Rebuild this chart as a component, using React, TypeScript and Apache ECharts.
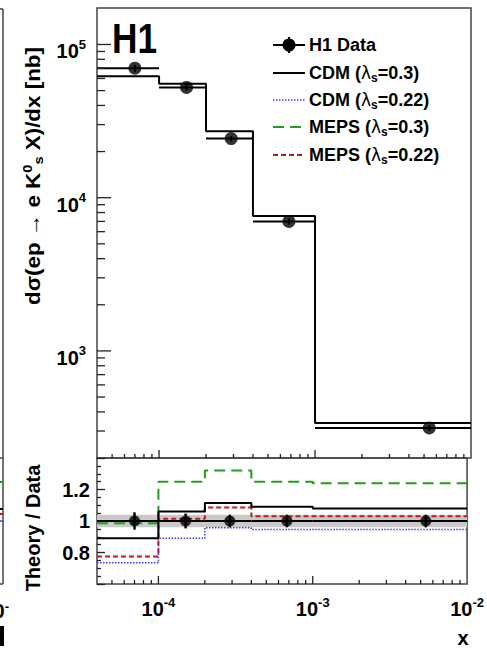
import React, { useEffect, useRef } from 'react';
import * as echarts from 'echarts';

const FONT = '"Liberation Sans", Arial, Helvetica, sans-serif';

// ---------- data ----------
const binEdges = [4e-5, 1e-4, 2e-4, 4e-4, 1e-3, 1e-2];
const dataX = [7e-5, 1.5e-4, 2.9e-4, 6.8e-4, 5.4e-3];
const dataY = [70000, 52400, 24300, 7000, 314];
const dataYErr = [3600, 2400, 1000, 300, 13];
const cdmMainY = [62000, 55500, 27100, 7600, 339];

const ratioErr = [0.055, 0.047, 0.04, 0.04, 0.04];
const cdm03Ratio = [0.89, 1.06, 1.115, 1.09, 1.08];
const cdm022Ratio = [0.735, 0.89, 0.957, 0.946, 0.946];
const meps03Ratio = [0.985, 1.25, 1.32, 1.25, 1.24];
const meps022Ratio = [0.775, 1.015, 1.085, 1.03, 1.03];
const bandHalf = 0.04;

const xTickLabels = [1e-4, 1e-3, 1e-2];
const yMainTickLabels = [1e3, 1e4, 1e5];
const ratioTickLabels = [0.8, 1, 1.2];

const legendEntries = [
  { pre: 'H1 Data', lam: '', sub: '', post: '' },
  { pre: 'CDM (', lam: 'λ', sub: 's', post: '=0.3)' },
  { pre: 'CDM (', lam: 'λ', sub: 's', post: '=0.22)' },
  { pre: 'MEPS (', lam: 'λ', sub: 's', post: '=0.3)' },
  { pre: 'MEPS (', lam: 'λ', sub: 's', post: '=0.22)' },
];

const X_MIN = 4e-5, X_MAX = 1e-2;
const Y_MIN = 200, Y_MAX = 1.73e5;
const R_MIN = 0.6, R_MAX = 1.4;

const C_BLUE = '#3a3aff';
const C_GREEN = '#1f9e1f';
const C_RED = '#c01818';
const C_FRAME = '#444';
const C_TICK = '#222';

// ---------- helpers ----------
const stepData = (vals: number[]) => [
  ...vals.map((v, i) => [binEdges[i], v]),
  [binEdges[vals.length], vals[vals.length - 1]],
];

const logTicks = (lo: number, hi: number) => {
  const out: number[][] = [];
  for (let e = Math.floor(Math.log10(lo)); e <= Math.ceil(Math.log10(hi)); e++) {
    for (let m = 1; m <= 9; m++) {
      const v = m * Math.pow(10, e);
      if (v > lo * 1.0001 && v < hi * 0.9999) out.push([v, m === 1 ? 1 : 0]);
    }
  }
  return out;
};

const isIn = (v: number, list: number[]) => list.some((t) => Math.abs(v / t - 1) < 1e-6);

const powLabel = (v: number, list: number[]) => {
  if (!isIn(v, list)) return '';
  const e = Math.round(Math.log10(v));
  return `{b|10}{s|${e}}`;
};

const powRich = {
  b: { fontFamily: FONT, fontWeight: 'bold', fontSize: 20, color: '#000', lineHeight: 20, verticalAlign: 'bottom' },
  s: { fontFamily: FONT, fontWeight: 'bold', fontSize: 13, color: '#000', lineHeight: 34, verticalAlign: 'middle' },
};

const xTickSeries = (axisIdx: number, yBase: number) => ({
  type: 'custom',
  xAxisIndex: axisIdx,
  yAxisIndex: axisIdx,
  silent: true,
  z: 6,
  encode: { x: 0, y: 1 },
  data: logTicks(X_MIN, X_MAX).map(([v, m]) => [v, yBase, m]),
  renderItem: (params: any, api: any) => {
    const cs = params.coordSys;
    const p = api.coord([api.value(0), yBase]);
    const len = api.value(2) ? 8 : 4;
    const yb = cs.y + cs.height;
    return {
      type: 'line',
      shape: { x1: p[0], y1: yb, x2: p[0], y2: yb - len },
      style: { stroke: C_TICK, lineWidth: 1.3 },
    };
  },
});

const legendRich = {
  t: { fontFamily: FONT, fontWeight: 'bold', fontSize: 18, fill: '#000', lineHeight: 22 },
  l: { fontFamily: '"DejaVu Sans", sans-serif', fontSize: 17, fill: '#000', lineHeight: 22 },
  sub: { fontFamily: FONT, fontWeight: 'bold', fontSize: 12, fill: '#000', lineHeight: 10, verticalAlign: 'bottom' },
};

export default function App() {
  const ref = useRef<HTMLDivElement>(null);

  useEffect(() => {
    if (!ref.current) return;
    const chart = echarts.init(ref.current, undefined, { renderer: 'svg' });

    const legendY = [45, 73, 100, 127, 155];
    const legendStyles = [
      { stroke: '#000', lineDash: null as any, lineWidth: 2 },
      { stroke: '#000', lineDash: null as any, lineWidth: 2 },
      { stroke: C_BLUE, lineDash: [1.5, 1.5], lineWidth: 1.5 },
      { stroke: C_GREEN, lineDash: [11, 6], lineWidth: 2 },
      { stroke: C_RED, lineDash: [5, 3], lineWidth: 2 },
    ];
    const legendGraphics: any[] = [];
    legendEntries.forEach((e, i) => {
      const y = legendY[i];
      legendGraphics.push({
        type: 'line',
        shape: { x1: 273, y1: y, x2: 305, y2: y },
        style: { stroke: legendStyles[i].stroke, lineWidth: legendStyles[i].lineWidth, lineDash: legendStyles[i].lineDash },
      });
      if (i === 0) {
        legendGraphics.push({ type: 'circle', shape: { cx: 289, cy: y, r: 6.5 }, style: { fill: '#000' } });
        legendGraphics.push({
          type: 'line',
          shape: { x1: 289, y1: y - 8, x2: 289, y2: y + 8 },
          style: { stroke: '#000', lineWidth: 2 },
        });
      }
      const txt = e.lam
        ? `{t|${e.pre}}{l|${e.lam}}{sub|${e.sub}}{t|${e.post}}`
        : `{t|${e.pre}}`;
      legendGraphics.push({
        type: 'text',
        x: 309,
        y,
        style: { text: txt, rich: legendRich, align: 'left', verticalAlign: 'middle' },
      });
    });

    const titleRich = {
      t: { fontFamily: FONT, fontWeight: 'bold', fontSize: 20, fill: '#000', lineHeight: 24 },
      sup: { fontFamily: FONT, fontWeight: 'bold', fontSize: 13, fill: '#000', lineHeight: 12, verticalAlign: 'top' },
      sub: { fontFamily: FONT, fontWeight: 'bold', fontSize: 13, fill: '#000', lineHeight: 10, verticalAlign: 'bottom' },
    };

    const fragment: any[] = [
      { type: 'line', shape: { x1: 3, y1: 9, x2: 3, y2: 584 }, style: { stroke: C_FRAME, lineWidth: 1.5 } },
      { type: 'line', shape: { x1: 0, y1: 9, x2: 3, y2: 9 }, style: { stroke: C_FRAME, lineWidth: 1.5 } },
      { type: 'line', shape: { x1: 0, y1: 458, x2: 3, y2: 458 }, style: { stroke: C_FRAME, lineWidth: 1.5 } },
      { type: 'line', shape: { x1: 0, y1: 584, x2: 3, y2: 584 }, style: { stroke: C_FRAME, lineWidth: 1.5 } },
      { type: 'line', shape: { x1: 0, y1: 482, x2: 3, y2: 482 }, style: { stroke: C_GREEN, lineWidth: 2 } },
      { type: 'line', shape: { x1: 0, y1: 509, x2: 3, y2: 509 }, style: { stroke: '#000', lineWidth: 2 } },
      { type: 'line', shape: { x1: 0, y1: 514, x2: 3, y2: 514 }, style: { stroke: C_RED, lineWidth: 2 } },
      { type: 'line', shape: { x1: 0, y1: 521, x2: 3, y2: 521 }, style: { stroke: C_BLUE, lineWidth: 1.5 } },
      {
        type: 'text', x: 9, y: 606,
        style: { text: '{b|10}{s|-}', rich: {
          b: { fontFamily: FONT, fontWeight: 'bold', fontSize: 20, fill: '#000', lineHeight: 20, verticalAlign: 'bottom' },
          s: { fontFamily: FONT, fontWeight: 'bold', fontSize: 13, fill: '#000', lineHeight: 30, verticalAlign: 'middle' },
        }, align: 'right', verticalAlign: 'middle' },
      },
      { type: 'rect', shape: { x: 0, y: 626, width: 4, height: 20 }, style: { fill: '#000' } },
    ];

    const option: any = {
      animation: false,
      backgroundColor: '#fff',
      grid: [
        { left: 97, top: 8, width: 374, height: 450, show: true, borderColor: C_FRAME, borderWidth: 1.5, backgroundColor: 'transparent' },
        { left: 97, top: 458, width: 374, height: 126, show: true, borderColor: C_FRAME, borderWidth: 1.5, backgroundColor: 'transparent' },
      ],
      xAxis: [
        {
          type: 'log', logBase: 10, gridIndex: 0, min: X_MIN, max: X_MAX,
          axisLine: { show: false }, axisTick: { show: false }, axisLabel: { show: false }, splitLine: { show: false },
        },
        {
          type: 'log', logBase: 10, gridIndex: 1, min: X_MIN, max: X_MAX,
          axisLine: { show: false }, axisTick: { show: false }, splitLine: { show: false },
          axisLabel: {
            show: true, margin: 1, interval: 0, showMinLabel: true, showMaxLabel: true, hideOverlap: false,
            formatter: (v: number) => powLabel(v, xTickLabels), rich: powRich,
          },
        },
      ],
      yAxis: [
        {
          type: 'log', logBase: 10, gridIndex: 0, min: Y_MIN, max: Y_MAX,
          axisLine: { show: false }, axisTick: { show: false }, splitLine: { show: false },
          axisLabel: {
            show: true, margin: 11, interval: 0, showMinLabel: true, showMaxLabel: true, hideOverlap: false,
            formatter: (v: number) => powLabel(v, yMainTickLabels), rich: powRich,
          },
        },
        {
          type: 'value', gridIndex: 1, min: R_MIN, max: R_MAX, interval: 0.2,
          axisLine: { show: false }, splitLine: { show: false },
          axisTick: { show: true, inside: true, length: 8, lineStyle: { color: C_TICK, width: 1.3 } },
          minorTick: { show: true, splitNumber: 4, length: 4, lineStyle: { color: C_TICK, width: 1.3 } },
          axisLabel: {
            show: true, margin: 7, fontFamily: FONT, fontWeight: 'bold', fontSize: 20, color: '#000',
            showMinLabel: true, showMaxLabel: true,
            formatter: (v: number) => {
              const r = Math.round(v * 100) / 100;
              const hit = ratioTickLabels.find((t) => Math.abs(t - r) < 1e-6);
              return hit === undefined ? '' : String(hit);
            },
          },
        },
      ],
      series: [
        // ---- main panel ----
        {
          type: 'line', name: 'CDM (λs=0.3)', xAxisIndex: 0, yAxisIndex: 0, step: 'end', symbol: 'none',
          data: stepData(cdmMainY), lineStyle: { color: '#000', width: 2 }, z: 3,
        },
        {
          type: 'custom', name: 'H1 Data bars', xAxisIndex: 0, yAxisIndex: 0, z: 4, silent: true,
          encode: { x: 0, y: 1 },
          data: dataX.map((x, i) => [x, dataY[i], binEdges[i], binEdges[i + 1], dataY[i] - dataYErr[i], dataY[i] + dataYErr[i]]),
          renderItem: (params: any, api: any) => {
            const lo = api.coord([api.value(2), api.value(1)]);
            const hi = api.coord([api.value(3), api.value(1)]);
            const eLo = api.coord([api.value(0), api.value(4)]);
            const eHi = api.coord([api.value(0), api.value(5)]);
            return {
              type: 'group',
              children: [
                { type: 'line', shape: { x1: lo[0], y1: lo[1], x2: hi[0], y2: hi[1] }, style: { stroke: '#000', lineWidth: 2 } },
                { type: 'line', shape: { x1: eLo[0], y1: eLo[1], x2: eHi[0], y2: eHi[1] }, style: { stroke: '#000', lineWidth: 2 } },
              ],
            };
          },
        },
        {
          type: 'scatter', name: 'H1 Data', xAxisIndex: 0, yAxisIndex: 0, symbol: 'circle', symbolSize: 13, z: 5,
          itemStyle: { color: '#000' }, data: dataX.map((x, i) => [x, dataY[i]]),
        },
        xTickSeries(0, Y_MIN),
        {
          type: 'custom', xAxisIndex: 0, yAxisIndex: 0, silent: true, z: 6, encode: { x: 0, y: 1 },
          data: logTicks(Y_MIN, Y_MAX).map(([v, m]) => [X_MIN, v, m]),
          renderItem: (params: any, api: any) => {
            const cs = params.coordSys;
            const p = api.coord([X_MIN, api.value(1)]);
            const len = api.value(2) ? 14 : 8;
            return {
              type: 'line',
              shape: { x1: cs.x, y1: p[1], x2: cs.x + len, y2: p[1] },
              style: { stroke: C_TICK, lineWidth: 1.3 },
            };
          },
        },
        // ---- ratio panel ----
        {
          type: 'custom', xAxisIndex: 1, yAxisIndex: 1, silent: true, z: 1, encode: { x: 0, y: 1 },
          data: [[X_MIN, 1 - bandHalf, X_MAX, 1 + bandHalf]],
          renderItem: (params: any, api: any) => {
            const a = api.coord([api.value(0), api.value(1)]);
            const b = api.coord([api.value(2), api.value(3)]);
            return {
              type: 'rect',
              shape: { x: a[0], y: b[1], width: b[0] - a[0], height: a[1] - b[1] },
              style: { fill: '#c9c9c9' },
            };
          },
        },
        {
          type: 'line', name: 'CDM (λs=0.22)', xAxisIndex: 1, yAxisIndex: 1, step: 'end', symbol: 'none', z: 3,
          data: stepData(cdm022Ratio), lineStyle: { color: C_BLUE, width: 1.5, type: [1.5, 1.5] },
        },
        {
          type: 'line', name: 'MEPS (λs=0.3)', xAxisIndex: 1, yAxisIndex: 1, step: 'end', symbol: 'none', z: 3,
          data: stepData(meps03Ratio), lineStyle: { color: C_GREEN, width: 2, type: [11, 6] },
        },
        {
          type: 'line', name: 'MEPS (λs=0.22)', xAxisIndex: 1, yAxisIndex: 1, step: 'end', symbol: 'none', z: 3,
          data: stepData(meps022Ratio), lineStyle: { color: C_RED, width: 2, type: [5, 3] },
        },
        {
          type: 'line', name: 'CDM (λs=0.3) ratio', xAxisIndex: 1, yAxisIndex: 1, step: 'end', symbol: 'none', z: 3,
          data: stepData(cdm03Ratio), lineStyle: { color: '#000', width: 2 },
        },
        {
          type: 'custom', name: 'H1 Data ratio bars', xAxisIndex: 1, yAxisIndex: 1, z: 4, silent: true,
          encode: { x: 0, y: 1 },
          data: dataX.map((x, i) => [x, 1, binEdges[i], binEdges[i + 1], 1 - ratioErr[i], 1 + ratioErr[i]]),
          renderItem: (params: any, api: any) => {
            const lo = api.coord([api.value(2), api.value(1)]);
            const hi = api.coord([api.value(3), api.value(1)]);
            const eLo = api.coord([api.value(0), api.value(4)]);
            const eHi = api.coord([api.value(0), api.value(5)]);
            return {
              type: 'group',
              children: [
                { type: 'line', shape: { x1: lo[0], y1: lo[1], x2: hi[0], y2: hi[1] }, style: { stroke: '#000', lineWidth: 2 } },
                { type: 'line', shape: { x1: eLo[0], y1: eLo[1], x2: eHi[0], y2: eHi[1] }, style: { stroke: '#000', lineWidth: 2.5 } },
              ],
            };
          },
        },
        {
          type: 'scatter', name: 'H1 Data ratio', xAxisIndex: 1, yAxisIndex: 1, symbol: 'circle', symbolSize: 11, z: 5,
          itemStyle: { color: '#000' }, data: dataX.map((x) => [x, 1]),
        },
        xTickSeries(1, R_MIN),
      ],
      graphic: [
        ...legendGraphics,
        {
          type: 'text', x: 112, y: 38, scaleX: 0.82,
          style: { text: 'H1', fontFamily: FONT, fontWeight: 'bold', fontSize: 43, fill: '#000', align: 'left', verticalAlign: 'middle' },
        },
        {
          type: 'text', x: 33, y: 176, rotation: Math.PI / 2, scaleX: 1.12,
          style: {
            text: '{t|dσ(ep → e K}{sup|0}{sub|s}{t| X)/dx [nb]}', rich: titleRich, align: 'center', verticalAlign: 'middle',
          },
        },
        {
          type: 'text', x: 33, y: 528, rotation: Math.PI / 2,
          style: { text: 'Theory / Data', fontFamily: FONT, fontWeight: 'bold', fontSize: 20, fill: '#000', align: 'center', verticalAlign: 'middle' },
        },
        {
          type: 'text', x: 463, y: 638,
          style: { text: 'x', fontFamily: FONT, fontWeight: 'bold', fontSize: 20, fill: '#000', align: 'center', verticalAlign: 'middle' },
        },
        ...fragment,
      ],
    };

    chart.setOption(option);
    return () => chart.dispose();
  }, []);

  return <div ref={ref} style={{ position: 'absolute', left: 0, top: 0, width: 487, height: 653 }} />;
}
